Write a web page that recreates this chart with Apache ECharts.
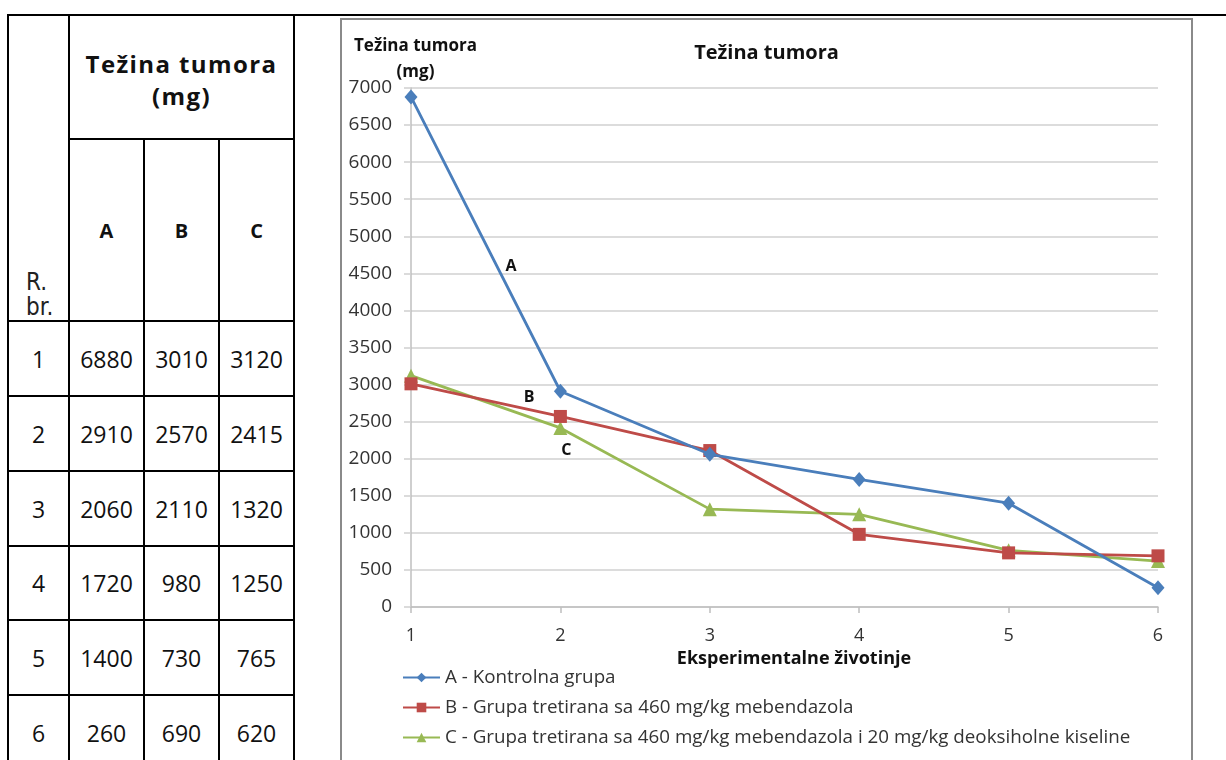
<!DOCTYPE html>
<html><head><meta charset="utf-8">
<script src="https://cdn.jsdelivr.net/npm/echarts@6/dist/echarts.min.js"></script>
<style>
html,body{margin:0;padding:0;background:#fff;width:1226px;height:760px;overflow:hidden;}
.cell{position:absolute;box-sizing:border-box;border:2px solid #000;display:flex;align-items:center;justify-content:center;text-align:center;font-family:'Open Sans',sans-serif;color:#111;}
.num{font-size:23px;}
.hdr{font-weight:bold;font-size:24px;line-height:32px;letter-spacing:1.4px;padding-top:6px;}
.abc{font-weight:bold;font-size:20px;}
.rbr{align-items:flex-end;justify-content:flex-start;font-family:'Liberation Sans Narrow','DejaVu Sans Condensed',sans-serif;font-size:24px;line-height:25px;text-align:left;padding-left:17px;padding-bottom:0px;color:#222;}
#frame{position:absolute;left:340px;top:18px;width:849px;height:800px;border:2px solid #8a8a8a;}
#topline{position:absolute;left:293px;top:14px;width:933px;height:2px;background:#000;}
</style></head><body>
<div id="tbl"></div>
<div id="topline"></div>
<div id="frame"><div id="chart" style="width:849px;height:760px"></div></div>
<script>
// ---- data ----
const animals = ['1', '2', '3', '4', '5', '6'];
const groupLetters = ['A', 'B', 'C'];
const weightA = [6880, 2910, 2060, 1720, 1400, 260];
const weightB = [3010, 2570, 2110, 980, 730, 690];
const weightC = [3120, 2415, 1320, 1250, 765, 620];
const seriesNames = [
  'A - Kontrolna grupa',
  'B - Grupa tretirana sa 460 mg/kg mebendazola',
  'C - Grupa tretirana sa 460 mg/kg mebendazola i 20 mg/kg deoksiholne kiseline'
];
const tableTitle = 'Težina tumora<br>(mg)';
const rowHeader = 'R.<br>br.';
const chartTitle = 'Težina tumora';
const yName = 'Težina tumora\n(mg)';
const xName = 'Eksperimentalne životinje';
// annotation anchors in data units (x = animal, y = mg)
const labelAnchors = [[1.67, 4600], [1.79, 2830], [2.04, 2110]];

// ---- table (HTML) ----
const xb = [7, 68, 143, 218, 293];
const yb = [14, 138, 320, 395, 470, 545, 619, 694, 769];
const tbl = document.getElementById('tbl');
function cell(c0, c1, r0, r1, html, cls) {
  const d = document.createElement('div');
  d.className = 'cell ' + (cls || '');
  d.style.left = xb[c0] + 'px';
  d.style.width = (xb[c1] + 2 - xb[c0]) + 'px';
  d.style.top = yb[r0] + 'px';
  d.style.height = (yb[r1] + 2 - yb[r0]) + 'px';
  d.innerHTML = html;
  tbl.appendChild(d);
}
cell(0, 1, 0, 2, rowHeader, 'rbr');
cell(1, 4, 0, 1, tableTitle, 'hdr');
groupLetters.forEach((g, i) => cell(i + 1, i + 2, 1, 2, g, 'abc'));
const cols = [weightA, weightB, weightC];
animals.forEach((a, r) => {
  cell(0, 1, r + 2, r + 3, a, 'num');
  cols.forEach((arr, c) => cell(c + 1, c + 2, r + 2, r + 3, String(arr[r]), 'num'));
});

// ---- chart ----
const colors = ['#4A7EBB', '#BE4B48', '#98B954'];
const symbols = ['diamond', 'rect', 'triangle'];
const symSizes = [[13, 15], 13, 14];
const font = "'Open Sans', sans-serif";
const chart = echarts.init(document.getElementById('chart'), null, {renderer: 'canvas'});
const all = [weightA, weightB, weightC];
chart.setOption({
  animation: false,
  backgroundColor: '#fff',
  title: {
    text: chartTitle, left: 'center', top: 18,
    textStyle: {fontFamily: font, fontSize: 20, fontWeight: 'bold', color: '#111'}
  },
  grid: {left: 67, top: 68, width: 749, height: 519},
  legend: {
    orient: 'vertical', left: 55, top: 643,
    itemWidth: 37, itemHeight: 12, itemGap: 11,
    textStyle: {fontFamily: font, fontSize: 18.8, color: '#333'},
    data: seriesNames
  },
  xAxis: {
    type: 'value', min: 1, max: 6, interval: 1,
    name: xName, nameLocation: 'middle', nameGap: 43, nameMoveOverlap: false,
    nameTextStyle: {fontFamily: font, fontSize: 18, fontWeight: 'bold', color: '#111', padding: [0, 0, 0, 19]},
    axisLine: {show: true, lineStyle: {color: '#bfbfbf', width: 1.5}},
    axisTick: {show: true, length: 6, lineStyle: {color: '#bfbfbf', width: 1.5}},
    splitLine: {show: false},
    axisLabel: {margin: 20, fontFamily: font, fontSize: 18, color: '#333', formatter: v => animals[v - 1] || ''}
  },
  yAxis: {
    type: 'value', min: 0, max: 7000, interval: 500,
    name: yName, nameLocation: 'end', nameGap: 3, nameMoveOverlap: false,
    nameTextStyle: {fontFamily: font, fontSize: 17, fontWeight: 'bold', color: '#111', align: 'center', lineHeight: 26, padding: [0, 0, 0, 9]},
    axisLine: {show: true, lineStyle: {color: '#bfbfbf', width: 1.5}},
    axisTick: {show: true, length: 7, lineStyle: {color: '#cfcfcf', width: 1.5}},
    splitLine: {show: true, lineStyle: {color: '#d0d0d0', width: 1.5}},
    axisLabel: {margin: 19, fontFamily: font, fontSize: 19, color: '#333', formatter: v => String(v)}
  },
  series: all.map((arr, i) => ({
    name: seriesNames[i],
    type: 'line',
    data: arr.map((v, j) => [Number(animals[j]), v]),
    color: colors[i],
    symbol: symbols[i],
    symbolSize: symSizes[i],
    showAllSymbol: true,
    lineStyle: {width: 2.8, color: colors[i]},
    itemStyle: {color: colors[i]},
    z: 3 - i,
    markPoint: {
      symbol: 'circle', symbolSize: 0,
      label: {show: true, formatter: groupLetters[i], fontFamily: font, fontSize: 16, fontWeight: 'bold', color: '#111'},
      data: [{coord: labelAnchors[i]}]
    }
  }))
});
</script>
</body></html>
